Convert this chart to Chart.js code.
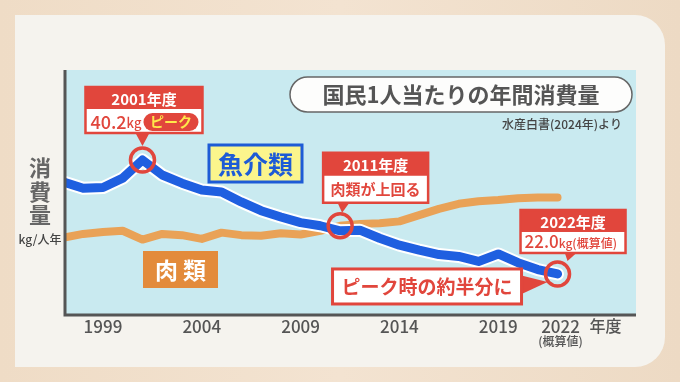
<!DOCTYPE html>
<html><head><meta charset="utf-8">
<script src="https://cdn.jsdelivr.net/npm/chart.js@4/dist/chart.umd.min.js"></script>
<style>html,body{margin:0;padding:0;background:#f0dec9;}#wrap{width:680px;height:382px;position:relative}</style>
</head><body><div id="wrap"><canvas id="c" width="680" height="382"></canvas></div>
<script>
const years = [1997,1998,1999,2000,2001,2002,2003,2004,2005,2006,2007,2008,2009,2010,2011,2012,2013,2014,2015,2016,2017,2018,2019,2020,2021,2022];
const fishKg = [36.7,35.7,35.8,37.3,40.2,37.8,36.5,35.4,35.1,33.5,32.1,31.1,30.2,29.7,28.9,29.0,27.7,26.6,25.8,25.1,24.8,24.0,25.2,23.8,22.7,22.0];
const meatKg = [27.8,28.4,28.7,28.9,27.5,28.4,28.2,27.6,28.6,28.2,28.1,28.5,28.3,28.9,29.7,30.0,30.1,30.4,31.4,32.4,33.2,33.6,33.8,34.1,34.2,34.2];
const tickYears = [1999,2004,2009,2014,2019,2022];
const tickLabels = ['1999','2004','2009','2014','2019','2022'];

const JP = '"Noto Sans CJK JP","Noto Sans",sans-serif';
const RED = '#e1463c';

function pts(arr){ return years.map((y,i)=>({x:y,y:arr[i]})); }

const deco = {
  id:'deco',
  beforeDraw(chart){
    const ctx = chart.ctx, a = chart.chartArea;
    ctx.save();
    const g = ctx.createLinearGradient(0,0,680,0);
    g.addColorStop(0,'#efdcc6'); g.addColorStop(0.5,'#f3e3d1'); g.addColorStop(1,'#eddac4');
    ctx.fillStyle = g; ctx.fillRect(0,0,680,382);
    ctx.fillStyle = '#f5f3ee';
    ctx.beginPath();
    ctx.roundRect(15,15,650,352,[0,30,30,0]);
    ctx.fill();
    ctx.fillStyle = '#c9eaf0';
    ctx.fillRect(a.left,a.top,a.right-a.left,a.bottom-a.top);
    ctx.restore();
  },
  afterDraw(chart){
    const ctx = chart.ctx, a = chart.chartArea;
    const xs = chart.scales.x, ys = chart.scales.y;
    ctx.save();
    ctx.strokeStyle = '#555'; ctx.lineWidth = 3;
    ctx.beginPath(); ctx.moveTo(a.left, a.top); ctx.lineTo(a.left, a.bottom); ctx.lineTo(a.right, a.bottom); ctx.stroke();
    ctx.fillStyle = '#555'; ctx.textAlign='center'; ctx.textBaseline='middle';
    ctx.font = '500 17px '+JP;
    tickYears.forEach((t,i)=>{
      const x = xs.getPixelForValue(t) + (t===2022?3:0);
      ctx.fillText(tickLabels[i], x, a.bottom+12);
    });
    ctx.font = '500 16px '+JP;
    ctx.fillText('年度', xs.getPixelForValue(2022)+48, a.bottom+11);
    ctx.font = '500 12px '+JP;
    ctx.fillText('(概算値)', xs.getPixelForValue(2022)+3, a.bottom+26);
    ctx.fillStyle = '#666'; ctx.font = 'bold 22px '+JP;
    ['消','費','量'].forEach((ch,i)=>ctx.fillText(ch, 40, 168+i*23.5));
    ctx.fillStyle='#444'; ctx.font = '500 12px '+JP;
    ctx.fillText('kg/人年', 40, 239);

    ctx.fillStyle = '#fdfdfc'; ctx.strokeStyle = '#666'; ctx.lineWidth = 1.5;
    ctx.beginPath(); ctx.roundRect(290,77,342,35,17.5); ctx.fill(); ctx.stroke();
    ctx.fillStyle = '#555'; ctx.font = 'bold 22px '+JP;
    ctx.fillText('国民1人当たりの年間消費量', 461, 95);
    ctx.fillStyle = '#444'; ctx.font = '500 12px '+JP; ctx.textAlign='right';
    ctx.fillText('水産白書(2024年)より', 622, 124);
    ctx.textAlign='center';

    ctx.fillStyle = '#fbf58c'; ctx.strokeStyle = '#1d5bd6'; ctx.lineWidth = 3;
    ctx.fillRect(209,145,93,37); ctx.strokeRect(209,145,93,37);
    ctx.fillStyle = '#1d5bd6'; ctx.font = 'bold 25px '+JP;
    ctx.fillText('魚介類', 255.5, 164);
    ctx.fillStyle = '#e38b3b'; ctx.fillRect(143,251,75,37);
    ctx.fillStyle = '#fff'; ctx.font = 'bold 23px '+JP;
    ctx.fillText('肉 類', 180.5, 270);

    function ring(x,y){
      ctx.strokeStyle = RED; ctx.lineWidth = 3.5;
      ctx.beginPath(); ctx.arc(x,y,12,0,Math.PI*2); ctx.stroke();
    }
    function callout(x,y,w,h1,h2,top){
      ctx.fillStyle = '#fff'; ctx.fillRect(x,y,w,h1+h2);
      ctx.fillStyle = RED; ctx.fillRect(x,y,w,h1);
      ctx.strokeStyle = RED; ctx.lineWidth = 2.5; ctx.strokeRect(x,y,w,h1+h2);
      ctx.fillStyle = '#fff'; ctx.font = 'bold 15px '+JP;
      ctx.fillText(top, x+w/2, y+h1/2+1);
    }
    function tri(p){
      ctx.fillStyle = RED; ctx.beginPath(); ctx.moveTo(p[0],p[1]); ctx.lineTo(p[2],p[3]); ctx.lineTo(p[4],p[5]); ctx.closePath(); ctx.fill();
    }
    // 2001 peak
    const px = xs.getPixelForValue(2001), py = ys.getPixelForValue(fishKg[4]);
    ring(px,py);
    tri([px-7,py-27,px+7,py-27,px,py-14]);
    callout(px-57,py-73,117,22,24,'2001年度');
    ctx.fillStyle = RED; ctx.textAlign='left';
    let tx = px-52;
    ctx.font = '500 18px '+JP; ctx.fillText('40.2', tx, py-38);
    tx += ctx.measureText('40.2').width;
    ctx.font = '500 13px '+JP; ctx.fillText('kg', tx, py-37);
    tx += ctx.measureText('kg').width + 2;
    ctx.beginPath(); ctx.roundRect(tx,py-47,px+56-tx,18,9); ctx.fill();
    ctx.fillStyle = '#ffe84a'; ctx.font = 'bold 14px '+JP; ctx.textAlign='center';
    ctx.fillText('ピーク', (tx+px+56)/2, py-38);

    // 2011 crossing
    const cx = xs.getPixelForValue(2011), cy = ys.getPixelForValue(meatKg[14]);
    tri([cx-3,cy-24,cx+10,cy-24,cx+2,cy-13]);
    ring(cx,cy);
    callout(cx-17,cy-73,105,23,27,'2011年度');
    ctx.fillStyle = RED; ctx.font = 'bold 15px '+JP;
    ctx.fillText('肉類が上回る', cx+35.5, cy-36);

    // 2022
    const ex = xs.getPixelForValue(2022), ey = ys.getPixelForValue(fishKg[25]);
    ring(ex,ey);
    tri([ex+7,ey-22,ex+20,ey-22,ex+10,ey-13]);
    callout(ex-37,ey-64,105,22,21,'2022年度');
    ctx.fillStyle = RED; ctx.textAlign='left';
    let ux = ex-33;
    ctx.font = '500 17px '+JP; ctx.fillText('22.0', ux, ey-32);
    ux += ctx.measureText('22.0').width;
    ctx.font = '500 12px '+JP; ctx.fillText('kg(概算値)', ux, ey-31);
    ctx.textAlign='center';

    // half box
    tri([ex-38,ey+1,ex-38,ey+21,ex-10,ey+8]);
    ctx.fillStyle='#fff'; ctx.fillRect(ex-225,ey-5,189,35);
    ctx.strokeStyle=RED; ctx.lineWidth=3; ctx.strokeRect(ex-225,ey-5,189,35);
    ctx.fillStyle=RED; ctx.font='bold 19px '+JP;
    ctx.fillText('ピーク時の約半分に', ex-130.5, ey+13);
    ctx.restore();
  }
};

new Chart(document.getElementById('c'), {
  type:'line',
  data:{
    datasets:[
      {label:'魚介類', data:pts(fishKg), borderColor:'#1f5fe0', borderWidth:9, order:0},
      {label:'outline', data:pts(fishKg), borderColor:'#ffffff', borderWidth:13, order:1},
      {label:'肉類', data:pts(meatKg), borderColor:'#e9a257', borderWidth:8, order:2}
    ]
  },
  options:{
    responsive:false, animation:false, devicePixelRatio:1,
    layout:{padding:{left:65,right:44,top:70,bottom:67}},
    elements:{point:{radius:0}, line:{tension:0, borderCapStyle:'round', borderJoinStyle:'round', fill:false}},
    datasets:{line:{clip:{left:0,top:false,right:false,bottom:false}}},
    scales:{
      x:{type:'linear', min:1997.08, max:2025.97, display:false},
      y:{type:'linear', min:15.45, max:54.57, display:false}
    },
    plugins:{legend:{display:false}, tooltip:{enabled:false}}
  },
  plugins:[deco]
});
</script></body></html>
